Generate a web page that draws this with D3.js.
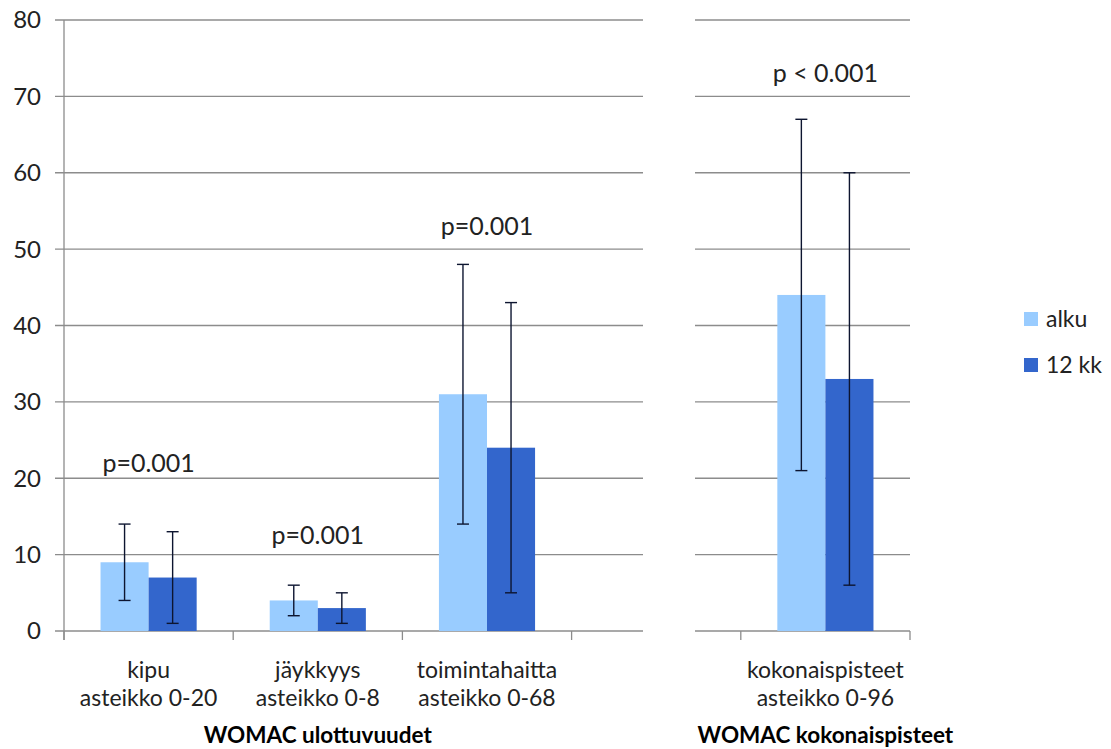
<!DOCTYPE html>
<html>
<head>
<meta charset="utf-8">
<style>
  body { margin: 0; background: #fff; }
  text { font-family: Lato, "Open Sans", sans-serif; fill: #222; }
</style>
</head>
<body>
<svg width="1111" height="749"></svg>
<script src="https://d3js.org/d3.v7.min.js"></script>
<script>

  // categories (4th one is an empty spacer between the two panels)
  var categories = ["kipu", "jäykkyys", "toimintahaitta", "", "kokonaispisteet"];
  var scaleLabels = ["asteikko 0-20", "asteikko 0-8", "asteikko 0-68", "", "asteikko 0-96"];
  var seriesNames = ["alku", "12 kk"];

  var alku = [9, 4, 31, null, 44];
  var alkuLow = [4, 2, 14, null, 21];
  var alkuHigh = [14, 6, 48, null, 67];

  var kk12 = [7, 3, 24, null, 33];
  var kk12Low = [1, 1, 5, null, 6];
  var kk12High = [13, 5, 43, null, 60];

  var pLabels = ["p=0.001", "p=0.001", "p=0.001", "", "p < 0.001"];
  var pLabelAt = [22, 12.5, 53, null, 73];

  var yTicks = [0, 10, 20, 30, 40, 50, 60, 70, 80];
  var groupTitles = ["WOMAC ulottuvuudet", "WOMAC kokonaispisteet"];

  var colors = { "alku": "#99ccff", "12 kk": "#3366cc" };
  var gridColor = "#8c8c8c";

  var svg = d3.select("svg");

  var x = d3.scaleBand()
    .domain(d3.range(categories.length))
    .range([64, 910]);

  var xs = d3.scaleBand()
    .domain(seriesNames)
    .range([0, x.bandwidth()])
    .paddingOuter(0.76);

  var y = d3.scaleLinear()
    .domain([0, 80])
    .range([631, 20]);

  // gridlines
  var g = svg.append("g");
  g.selectAll("line.grid")
    .data(yTicks)
    .enter().append("line")
    .attr("x1", 55)
    .attr("x2", x.range()[1])
    .attr("y1", function (d) { return y(d); })
    .attr("y2", function (d) { return y(d); })
    .attr("stroke", gridColor)
    .attr("stroke-width", 1.3);

  // y axis line + x tick marks
  g.append("line")
    .attr("x1", 64).attr("x2", 64)
    .attr("y1", y(80)).attr("y2", y(0) + 9)
    .attr("stroke", gridColor).attr("stroke-width", 1.3);

  g.selectAll("line.xtick")
    .data(d3.range(categories.length + 1))
    .enter().append("line")
    .attr("x1", function (i) { return x.range()[0] + i * x.step(); })
    .attr("x2", function (i) { return x.range()[0] + i * x.step(); })
    .attr("y1", y(0))
    .attr("y2", y(0) + 9)
    .attr("stroke", gridColor)
    .attr("stroke-width", 1.3);

  // white gap separating the two panels
  svg.append("rect")
    .attr("x", 643)
    .attr("y", 0)
    .attr("width", 52)
    .attr("height", 660)
    .attr("fill", "#fff");

  // y tick labels
  svg.selectAll("text.ytick")
    .data(yTicks)
    .enter().append("text")
    .attr("x", 41)
    .attr("y", function (d) { return y(d); })
    .attr("dy", "0.35em")
    .attr("text-anchor", "end")
    .style("font-size", "24px")
    .text(function (d) { return d; });

  // bars
  var series = [
    { name: "alku", values: alku, low: alkuLow, high: alkuHigh },
    { name: "12 kk", values: kk12, low: kk12Low, high: kk12High }
  ];

  series.forEach(function (s) {
    var idx = d3.range(categories.length).filter(function (i) { return s.values[i] != null; });

    svg.append("g").selectAll("rect")
      .data(idx)
      .enter().append("rect")
      .attr("x", function (i) { return x(i) + xs(s.name); })
      .attr("y", function (i) { return y(s.values[i]); })
      .attr("width", xs.bandwidth())
      .attr("height", function (i) { return y(0) - y(s.values[i]); })
      .attr("fill", colors[s.name]);

    var eb = svg.append("g")
      .attr("stroke", "#0d1530")
      .attr("stroke-width", 1.4);

    idx.forEach(function (i) {
      var cx = x(i) + xs(s.name) + xs.bandwidth() / 2;
      eb.append("line")
        .attr("x1", cx).attr("x2", cx)
        .attr("y1", y(s.low[i])).attr("y2", y(s.high[i]));
      eb.append("line")
        .attr("x1", cx - 6).attr("x2", cx + 6)
        .attr("y1", y(s.low[i])).attr("y2", y(s.low[i]));
      eb.append("line")
        .attr("x1", cx - 6).attr("x2", cx + 6)
        .attr("y1", y(s.high[i])).attr("y2", y(s.high[i]));
    });
  });

  // p-value annotations
  svg.selectAll("text.pval")
    .data(d3.range(categories.length).filter(function (i) { return pLabels[i]; }))
    .enter().append("text")
    .attr("x", function (i) { return x(i) + x.bandwidth() / 2; })
    .attr("y", function (i) { return y(pLabelAt[i]); })
    .attr("dy", "0.35em")
    .attr("text-anchor", "middle")
    .style("font-size", "25px")
    .text(function (i) { return pLabels[i]; });

  // category labels
  var cl = svg.selectAll("text.cat")
    .data(d3.range(categories.length).filter(function (i) { return categories[i]; }))
    .enter().append("text")
    .attr("text-anchor", "middle")
    .style("font-size", "23px");
  cl.append("tspan")
    .attr("x", function (i) { return x(i) + x.bandwidth() / 2; })
    .attr("y", 678)
    .text(function (i) { return categories[i]; });
  cl.append("tspan")
    .attr("x", function (i) { return x(i) + x.bandwidth() / 2; })
    .attr("y", 706)
    .text(function (i) { return scaleLabels[i]; });

  // group titles
  var leftCenter = (x(0) + x(2) + x.bandwidth()) / 2;
  var rightCenter = x(4) + x.bandwidth() / 2;
  svg.selectAll("text.gtitle")
    .data([leftCenter, rightCenter])
    .enter().append("text")
    .attr("x", function (d) { return d; })
    .attr("y", 743)
    .attr("text-anchor", "middle")
    .style("font-size", "22.5px")
    .style("font-weight", "bold")
    .style("fill", "#000")
    .text(function (d, i) { return groupTitles[i]; });

  // legend
  var legend = svg.append("g").selectAll("g")
    .data(seriesNames)
    .enter().append("g")
    .attr("transform", function (d, i) { return "translate(1024," + (312 + i * 46) + ")"; });
  legend.append("rect")
    .attr("width", 14)
    .attr("height", 14)
    .attr("fill", function (d) { return colors[d]; });
  legend.append("text")
    .attr("x", 22)
    .attr("y", 7)
    .attr("dy", "0.35em")
    .style("font-size", "23px")
    .text(function (d) { return d; });

</script>
</body>
</html>
